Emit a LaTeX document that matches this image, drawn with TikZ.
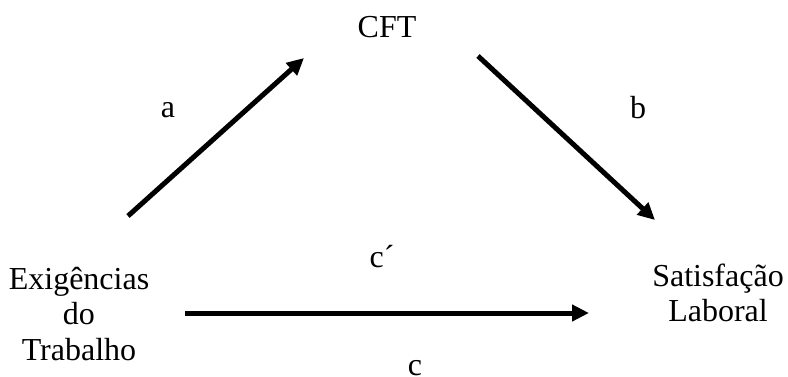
\documentclass[tikz,border=0pt]{standalone}
\usepackage{fontspec}
\setmainfont{Liberation Serif}
\usetikzlibrary{arrows.meta}
\begin{document}
\begin{tikzpicture}[x=0.5pt,y=-0.5pt,
  arr/.style={line width=2.5pt,-{Triangle[length=8.5pt,width=8pt]}},
  lbl/.style={font=\fontsize{16}{17.75}\selectfont,align=center}]
\useasboundingbox (0,0) rectangle (788,376);
\node[lbl] (cft) at (387,27) {CFT};
\node[lbl] (exig) at (79,314) {Exigências\\do\\Trabalho};
\node[lbl] (sat) at (718,293) {Satisfação\\Laboral};

\coordinate (a0) at (128,216);
\coordinate (a1) at (304,58);
\coordinate (b0) at (478,56);
\coordinate (b1) at (655,220);
\coordinate (c0) at (185,313);
\coordinate (c1) at (589,313);

\draw[arr] (a0)--(a1);
\draw[arr] (b0)--(b1);
\draw[arr] (c0)--(c1);

\node[lbl] (la) at (168,110) {a};
\node[lbl] (lb) at (638,108) {b};
\node[lbl] (lcp) at (382,257) {c´};
\node[lbl] (lc) at (415,368) {c};
\end{tikzpicture}
\end{document}
